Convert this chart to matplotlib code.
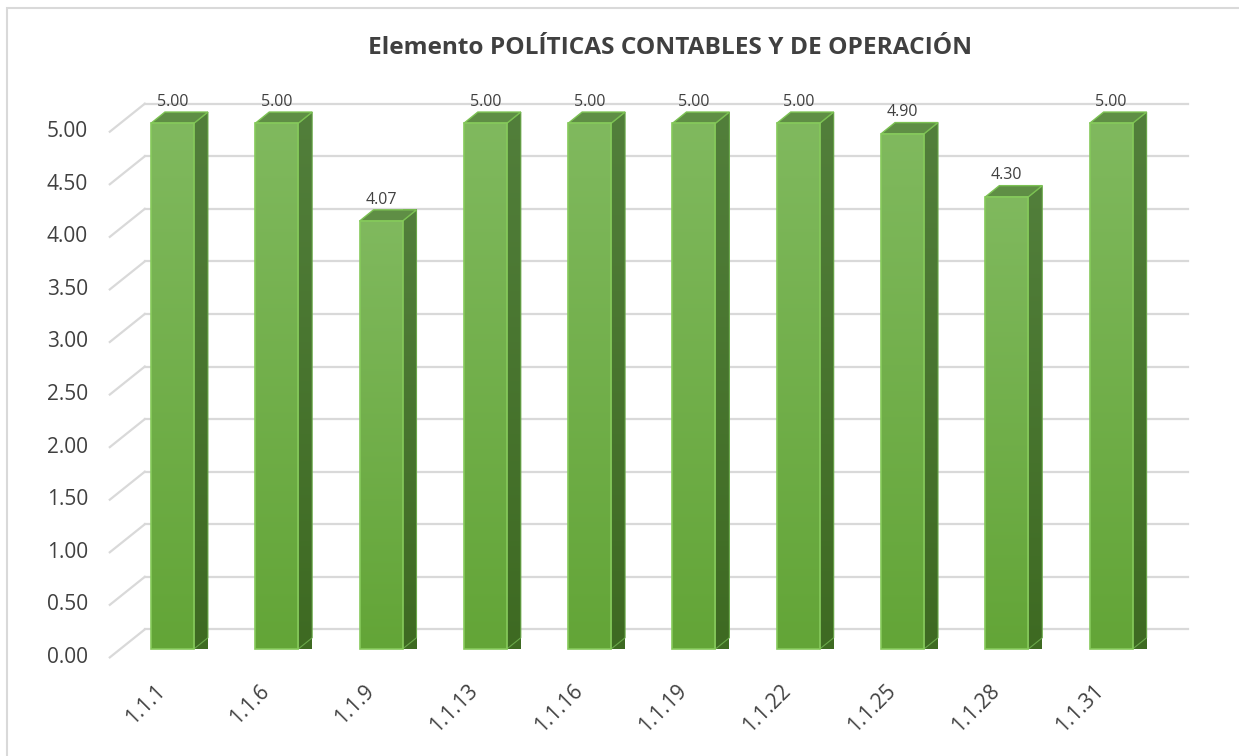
import matplotlib
matplotlib.use("Agg")
import matplotlib.pyplot as plt
import numpy as np
from matplotlib.colors import LinearSegmentedColormap
from matplotlib.patches import Polygon, Rectangle

plt.rcParams['font.family'] = ['Open Sans', 'DejaVu Sans']

# data
categories = ['1.1.1', '1.1.6', '1.1.9', '1.1.13', '1.1.16',
              '1.1.19', '1.1.22', '1.1.25', '1.1.28', '1.1.31']
values = [5.00, 5.00, 4.07, 5.00, 5.00, 5.00, 5.00, 4.90, 4.30, 5.00]
y_ticks = [0.0, 0.5, 1.0, 1.5, 2.0, 2.5, 3.0, 3.5, 4.0, 4.5, 5.0]
title = 'Elemento POLÍTICAS CONTABLES Y DE OPERACIÓN'

# 3d look (offsets in data units)
BAR_W = 0.412
DEPTH_X, DEPTH_Y = 0.134, 0.107      # bar side depth
WALL_X, WALL_Y = 0.235, 0.1865       # back wall offset from bar plane
FLOOR_X, FLOOR_Y = -0.1007, -0.08    # front edge offset from bar plane

grid_col = '#d9d9d9'
front_cmap = LinearSegmentedColormap.from_list('front', ['#63a537', '#80b95e'])
side_cmap = LinearSegmentedColormap.from_list('side', ['#3e6a22', '#527f3b'])

fig = plt.figure(figsize=(12.39, 7.56), dpi=100)
ax = fig.add_axes([120.3 / 1239, (756 - 649) / 756, 1043 / 1239, 525.7 / 756])
ax.set_xlim(-0.5, 9.5)
ax.set_ylim(0, 5)
ax.axis('off')

# chart border
fig.patches.append(Rectangle((7 / 1239, -0.1), 1.2, (756 - 8) / 756 + 0.1,
                             transform=fig.transFigure, fill=False,
                             edgecolor=grid_col, linewidth=1.5))

# wall gridlines and left floor diagonals
x0, x1 = -0.5, 9.5
for t in y_ticks:
    ax.plot([x0 + WALL_X, x1 + WALL_X], [t + WALL_Y, t + WALL_Y],
            color=grid_col, lw=1.6, clip_on=False, zorder=1)
    ax.plot([x0 + FLOOR_X, x0 + WALL_X], [t + FLOOR_Y, t + WALL_Y],
            color=grid_col, lw=1.6, clip_on=False, zorder=1)
    ax.text(-0.81, t + FLOOR_Y, f'{t:.2f}', ha='right', va='center',
            fontsize=15, color='#404040', clip_on=False)

grad = np.linspace(0, 1, 256).reshape(-1, 1)
for i, (cat, v) in enumerate(zip(categories, values)):
    xl, xr = i - BAR_W / 2, i + BAR_W / 2
    # side face
    side = Polygon([(xr, 0), (xr + DEPTH_X, DEPTH_Y), (xr + DEPTH_X, v + DEPTH_Y), (xr, v)],
                   closed=True, facecolor='none', edgecolor='#6aa84a', lw=0.8,
                   clip_on=False, zorder=3)
    ax.add_patch(side)
    im = ax.imshow(grad, cmap=side_cmap, origin='lower', aspect='auto',
                   extent=(xr, xr + DEPTH_X, 0, v + DEPTH_Y), zorder=2, clip_on=False)
    im.set_clip_path(side)
    # top face
    top = Polygon([(xl, v), (xr, v), (xr + DEPTH_X, v + DEPTH_Y), (xl + DEPTH_X, v + DEPTH_Y)],
                  closed=True, facecolor='#5f8e45', edgecolor='#7cc253', lw=1,
                  clip_on=False, zorder=3)
    ax.add_patch(top)
    # front face
    front = Rectangle((xl, 0), BAR_W, v, facecolor='none', edgecolor='#86ca5b',
                      lw=1.2, clip_on=False, zorder=4)
    ax.add_patch(front)
    im = ax.imshow(grad, cmap=front_cmap, origin='lower', aspect='auto',
                   extent=(xl, xr, 0, v), zorder=3, clip_on=False)
    im.set_clip_path(front)
    # value label
    ax.text(i, v + 0.205, f'{v:.2f}', ha='center', va='center',
            fontsize=11.5, color='#404040', clip_on=False)
    # category label
    ax.text(i - 0.17, -0.30, cat, rotation=45, ha='right', va='top',
            rotation_mode='anchor', fontsize=15, color='#404040', clip_on=False)

ax.set_xlim(-0.5, 9.5)
ax.set_ylim(0, 5)

fig.text(670 / 1239, 1 - 48 / 756, title, ha='center', va='center',
         fontsize=17.6, fontweight='bold', color='#404040')

fig.savefig('out.png', dpi=100)
